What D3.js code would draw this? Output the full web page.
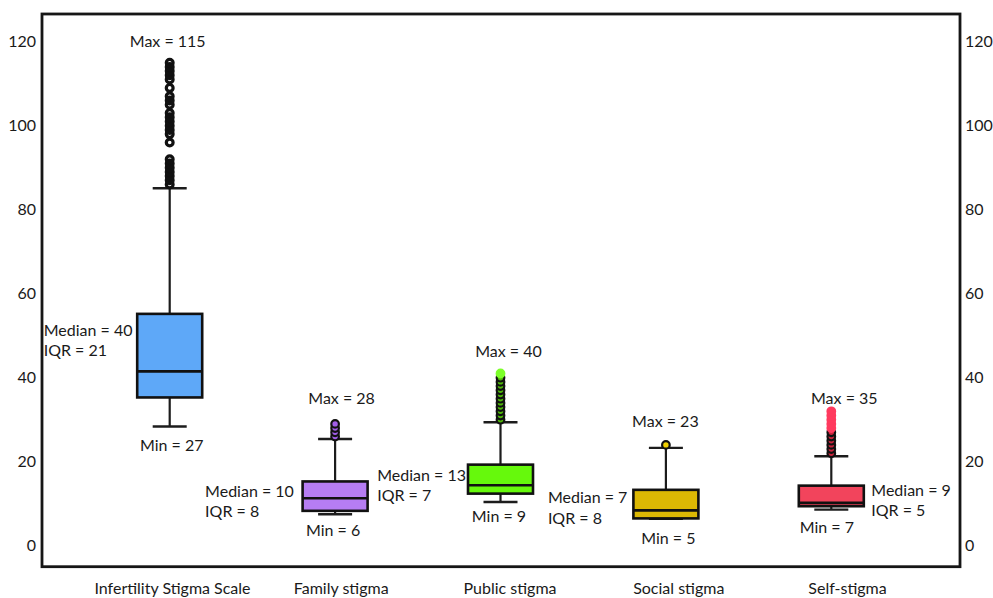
<!DOCTYPE html>
<html>
<head>
<meta charset="utf-8">
<script src="https://cdn.jsdelivr.net/npm/d3@7"></script>
<style>
  html, body { margin: 0; padding: 0; background: #fff; }
  #chart text { font-family: Lato, 'Open Sans', sans-serif; fill: #1a1a1a; }
</style>
</head>
<body>
<div id="chart"></div>
<script>
// ── Data ──────────────────────────────────────
const CATEGORIES   = ["Infertility Stigma Scale", "Family stigma", "Public stigma", "Social stigma", "Self-stigma"];
const Q1           = [35.3, 8.3, 12.4, 6.5, 9.4];
const MEDIAN       = [41.5, 11.3, 14.4, 8.4, 10.2];
const Q3           = [55.2, 15.3, 19.3, 13.3, 14.3];
const WHISKER_LOW  = [28.4, 7.5, 10.4, 6.4, 8.6];
const WHISKER_HIGH = [85.1, 25.4, 29.4, 23.3, 21.3];
const OUTLIERS = [
  [86, 87, 88, 89, 90, 91, 92, 96, 98, 99, 100, 101, 102, 103, 105, 106, 107, 109, 111, 112, 113, 114, 115],
  [26, 27, 28, 29],
  [30, 31, 32, 33, 34, 35, 36, 37, 38, 39, 40, 41],
  [24],
  [22, 23, 24, 25, 26, 27, 28, 29, 30, 31, 32]
];
const EXTREME_FROM = [null, null, 41, null, 28];   // outliers drawn as extremes

// stat labels printed on the chart
const MAX_LABEL    = [115, 28, 40, 23, 35];
const MIN_LABEL    = [27, 6, 9, 5, 7];
const MEDIAN_LABEL = [40, 10, 13, 7, 9];
const IQR_LABEL    = [21, 8, 7, 8, 5];

const Y_TICKS = [0, 20, 40, 60, 80, 100, 120];

// ── Styles / layout ───────────────────────────
const FILLS     = ["#5ea8f8", "#b67df3", "#66f90c", "#dcb804", "#f2445c"];
const OUT_FILL  = ["none", "#a25ee8", "#4fb80a", "#f0d000", "#c8243c"];
const OUT_EXTREME = ["#000", "#000", "#7dff2a", "#000", "#ff3a5e"];
// annotation offsets in px: max (rel. top mark), min (rel. low whisker), median block (rel. Q3)
const ANNOT = [
  { maxDx: -2,  maxDy: -21,  minDx: 2,    minDy: 19.3, medDx: -126,  medDy: 16 },
  { maxDx: 6.5, maxDy: -25.6, minDx: -2,  minDy: 15.8, medDx: -130,  medDy: 9.6 },
  { maxDx: 8,   maxDy: -21.8, minDx: -1.5, minDy: 14.7, medDx: -123.3, medDy: 10.4 },
  { maxDx: -0.5, maxDy: -23.2, minDx: 2.5, minDy: 19,  medDx: -118,  medDy: 7.5 },
  { maxDx: 13,  maxDy: -13,  minDx: -4.5, minDy: 17.7, medDx: 40,    medDy: 4.3 }
];

const W = 993, H = 598;
const FRAME = { left: 42, right: 960, top: 14, bottom: 566.7 };
const FONT_SIZE = "16px";

const svg = d3.select("#chart").append("svg")
  .attr("width", W).attr("height", H);

const x = d3.scaleBand().domain(CATEGORIES).range([87, 914]).padding(0);
const xLabel = d3.scalePoint().domain(CATEGORIES).range([172, 847]);
const y = d3.scaleLinear().domain([-5, 126.6]).range([FRAME.bottom, FRAME.top]);

const boxW = 65, capW = 34;

const data = CATEGORIES.map((c, i) => ({
  cat: c, i,
  q1: Q1[i], med: MEDIAN[i], q3: Q3[i],
  lo: WHISKER_LOW[i], hi: WHISKER_HIGH[i],
  out: OUTLIERS[i]
}));

// Frame
svg.append("rect")
  .attr("x", FRAME.left).attr("y", FRAME.top)
  .attr("width", FRAME.right - FRAME.left).attr("height", FRAME.bottom - FRAME.top)
  .attr("fill", "none").attr("stroke", "#161616").attr("stroke-width", 2.8);

// Y axes (left + right)
const yl = svg.append("g").attr("transform", `translate(${FRAME.left},0)`)
  .call(d3.axisLeft(y).tickValues(Y_TICKS).tickSize(0).tickPadding(6));
const yr = svg.append("g").attr("transform", `translate(${FRAME.right},0)`)
  .call(d3.axisRight(y).tickValues(Y_TICKS).tickSize(0).tickPadding(5));
[yl, yr].forEach(a => {
  a.select(".domain").remove();
  a.selectAll("text").attr("font-size", FONT_SIZE).attr("font-family", null);
});

// X axis labels
const xa = svg.append("g").attr("transform", `translate(0,${FRAME.bottom})`)
  .call(d3.axisBottom(xLabel).tickSize(0).tickPadding(16));
xa.select(".domain").remove();
xa.selectAll("text").attr("font-size", FONT_SIZE).attr("font-family", null);

const cx = d => x(d.cat) + x.bandwidth() / 2;

// Whiskers
const g = svg.append("g");
g.selectAll(".whisk").data(data).join("g").each(function (d) {
  const s = d3.select(this);
  s.append("line").attr("x1", cx(d)).attr("x2", cx(d))
    .attr("y1", y(d.lo)).attr("y2", y(d.q1))
    .attr("stroke", "#1c1c1c").attr("stroke-width", 2.2);
  s.append("line").attr("x1", cx(d)).attr("x2", cx(d))
    .attr("y1", y(d.q3)).attr("y2", y(d.hi))
    .attr("stroke", "#1c1c1c").attr("stroke-width", 2.2);
  [d.lo, d.hi].forEach(v => s.append("line")
    .attr("x1", cx(d) - capW / 2).attr("x2", cx(d) + capW / 2)
    .attr("y1", y(v)).attr("y2", y(v))
    .attr("stroke", "#1c1c1c").attr("stroke-width", 2.4));
});

// Boxes
g.selectAll(".box").data(data).join("rect")
  .attr("x", d => cx(d) - boxW / 2).attr("width", boxW)
  .attr("y", d => y(d.q3)).attr("height", d => y(d.q1) - y(d.q3))
  .attr("fill", d => FILLS[d.i])
  .attr("stroke", "#111").attr("stroke-width", 2.6);

g.selectAll(".med").data(data).join("line")
  .attr("x1", d => cx(d) - boxW / 2).attr("x2", d => cx(d) + boxW / 2)
  .attr("y1", d => y(d.med)).attr("y2", d => y(d.med))
  .attr("stroke", "#111").attr("stroke-width", 2.6);

// Outliers
data.forEach(d => {
  const isExt = v => EXTREME_FROM[d.i] !== null && v >= EXTREME_FROM[d.i];
  g.append("g").selectAll("circle").data(d.out).join("circle")
    .attr("cx", cx(d)).attr("cy", v => y(v)).attr("r", d.i === 0 ? 3.4 : 3.8)
    .attr("fill", v => isExt(v) ? OUT_EXTREME[d.i] : OUT_FILL[d.i])
    .attr("stroke", v => isExt(v) ? OUT_EXTREME[d.i] : "#111")
    .attr("stroke-width", d.i === 0 ? 3.2 : 2.2);
});

// Annotations
const ann = svg.append("g").attr("font-size", FONT_SIZE);
data.forEach(d => {
  const a = ANNOT[d.i];
  const top = d.out.length ? d3.max(d.out) : d.hi;
  ann.append("text").attr("x", cx(d) + a.maxDx).attr("y", y(top) + a.maxDy)
    .attr("dy", "0.36em").attr("text-anchor", "middle").text(`Max = ${MAX_LABEL[d.i]}`);
  ann.append("text").attr("x", cx(d) + a.minDx).attr("y", y(d.lo) + a.minDy)
    .attr("dy", "0.36em").attr("text-anchor", "middle").text(`Min = ${MIN_LABEL[d.i]}`);
  ann.append("text").attr("x", cx(d) + a.medDx).attr("y", y(d.q3) + a.medDy)
    .attr("dy", "0.36em").text(`Median = ${MEDIAN_LABEL[d.i]}`);
  ann.append("text").attr("x", cx(d) + a.medDx).attr("y", y(d.q3) + a.medDy + 20.5)
    .attr("dy", "0.36em").text(`IQR = ${IQR_LABEL[d.i]}`);
});
</script>
</body>
</html>
